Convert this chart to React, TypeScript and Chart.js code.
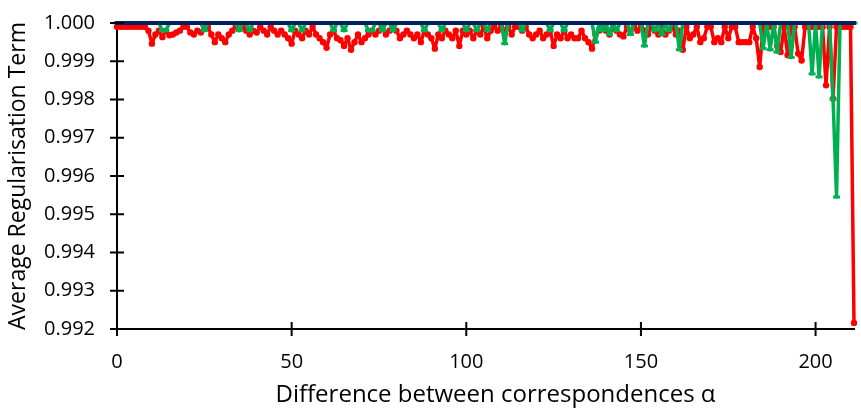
import React, { useEffect, useRef } from 'react';
import { Chart, registerables } from 'chart.js';

Chart.register(...registerables);

// Average regularisation term per difference between correspondences (alpha = 0..211)
const redValues = [
  0.9999, 0.9999, 0.9999, 0.9999, 0.9999, 0.9999, 0.9999, 0.9999, 0.9999, 0.9998,
  0.99946, 0.9997, 0.9998, 0.99963, 0.9998, 0.99968, 0.9997, 0.99975, 0.9998, 0.9999,
  0.9999, 0.99975, 0.9997, 0.9998, 0.99975, 0.9999, 0.9999, 0.9997, 0.9995, 0.9997,
  0.9996, 0.9995, 0.9997, 0.9998, 0.9999, 0.99985, 0.9999, 0.9998, 0.9997, 0.9998,
  0.99975, 0.9999, 0.9998, 0.9997, 0.9999, 0.9998, 0.9997, 0.9998, 0.9997, 0.9996,
  0.99946, 0.9998, 0.9997, 0.9996, 0.9998, 0.9997, 0.9999, 0.9997, 0.9996, 0.9995,
  0.99935, 0.9997, 0.9998, 0.9996, 0.99955, 0.9994, 0.9996, 0.9993, 0.9995, 0.9997,
  0.9995, 0.9996, 0.9997, 0.9998, 0.9997, 0.9998, 0.9999, 0.9997, 0.9998, 0.9999,
  0.9998, 0.9996, 0.9997, 0.9998, 0.9997, 0.9996, 0.9997, 0.9995, 0.9998, 0.9997,
  0.9996, 0.99933, 0.9997, 0.9996, 0.9998, 0.9997, 0.9996, 0.9998, 0.9994, 0.9998,
  0.9997, 0.9998, 0.9996, 0.9998, 0.9997, 0.9999, 0.9996, 0.9998, 0.9999, 0.9998,
  0.9999, 0.9998, 0.9999, 0.9997, 0.9999, 0.9999, 0.9998, 0.9999, 0.9997, 0.9996,
  0.9997, 0.9998, 0.9996, 0.9997, 0.9998, 0.9994, 0.9997, 0.9996, 0.9998, 0.9996,
  0.9997, 0.9996, 0.9996, 0.9998, 0.9996, 0.9995, 0.99933, 0.9997, 0.9998, 0.9999,
  0.9998, 0.9997, 0.9999, 0.9998, 0.9997, 0.99965, 0.9999, 0.9998, 0.9999, 0.9998,
  0.9999, 0.9998, 0.9997, 0.9999, 0.9998, 0.9997, 0.9999, 0.9997, 0.9998, 0.9999,
  0.9997, 0.9998, 0.9993, 0.9999, 0.9996, 0.9997, 0.9999, 0.9995, 0.9996, 0.9999,
  0.9999, 0.9995, 0.9996, 0.9995, 0.9999, 0.9996, 0.9999, 0.9999, 0.9995, 0.9995,
  0.9995, 0.9995, 0.9999, 0.9996, 0.99885, 0.9999, 0.9999, 0.9999, 0.9999, 0.9994,
  0.99924, 0.9999, 0.99916, 0.9999, 0.9999, 0.9992, 0.99902, 0.9999, 0.9999, 0.9999,
  0.9999, 0.9999, 0.9999, 0.99837, 0.9999, 0.99802, 0.9999, 0.9999, 0.9999, 0.9999,
  0.9999, 0.99216,
];

const greenValues = [
  1, 1, 1, 1, 1, 1, 1, 1, 1, 1,
  1, 1, 1, 0.9998, 0.9998, 1, 1, 1, 1, 1,
  1, 1, 1, 1, 1, 0.9998, 1, 1, 1, 1,
  1, 1, 1, 1, 1, 0.9998, 1, 1, 0.9998, 1,
  1, 1, 1, 1, 1, 1, 1, 1, 1, 1,
  0.9998, 1, 1, 0.9998, 1, 1, 1, 1, 1, 1,
  1, 1, 0.9998, 1, 1, 0.9998, 1, 1, 1, 1,
  1, 1, 0.9998, 0.9998, 1, 1, 0.9998, 1, 1, 0.9998,
  1, 1, 1, 1, 1, 1, 1, 1, 0.9998, 1,
  1, 1, 1, 0.9998, 1, 1, 1, 1, 1, 1,
  0.9998, 1, 1, 0.9998, 1, 1, 0.9998, 1, 1, 1,
  1, 0.99946, 1, 1, 1, 1, 0.9998, 1, 1, 1,
  1, 1, 1, 1, 0.9998, 1, 1, 1, 0.9998, 1,
  1, 1, 1, 1, 1, 1, 1, 0.9995, 1, 0.9998,
  1, 0.9997, 1, 0.9998, 1, 1, 1, 0.9997, 1, 1,
  1, 0.9994, 1, 1, 0.9998, 1, 0.9997, 1, 0.9998, 1,
  1, 0.9993, 1, 1, 1, 1, 1, 1, 1, 1,
  1, 1, 1, 1, 1, 1, 1, 1, 1, 1,
  1, 1, 1, 1, 1, 0.99933, 1, 0.9993, 1, 0.99924,
  1, 1, 1, 0.9991, 1, 1, 1, 1, 1, 0.99867,
  1, 0.99859, 1, 1, 1, 0.998, 0.99545, 1, 1, 1,
  1, 1,
];

const blueValues = [
  1, 1, 1, 1, 1, 1, 1, 1, 1, 1,
  1, 1, 1, 1, 1, 1, 1, 1, 1, 1,
  1, 1, 1, 1, 1, 1, 1, 1, 1, 1,
  1, 1, 1, 1, 1, 1, 1, 1, 1, 1,
  1, 1, 1, 1, 1, 1, 1, 1, 1, 1,
  1, 1, 1, 1, 1, 1, 1, 1, 1, 1,
  1, 1, 1, 1, 1, 1, 1, 1, 1, 1,
  1, 1, 1, 1, 1, 1, 1, 1, 1, 1,
  1, 1, 1, 1, 1, 1, 1, 1, 1, 1,
  1, 1, 1, 1, 1, 1, 1, 1, 1, 1,
  1, 1, 1, 1, 1, 1, 1, 1, 1, 1,
  1, 1, 1, 1, 1, 1, 1, 1, 1, 1,
  1, 1, 1, 1, 1, 1, 1, 1, 1, 1,
  1, 1, 1, 1, 1, 1, 1, 1, 1, 1,
  1, 1, 1, 1, 1, 1, 1, 1, 1, 1,
  1, 1, 1, 1, 1, 1, 1, 1, 1, 1,
  1, 1, 1, 1, 1, 1, 1, 1, 1, 1,
  1, 1, 1, 1, 1, 1, 1, 1, 1, 1,
  1, 1, 1, 1, 1, 1, 1, 1, 1, 1,
  1, 1, 1, 1, 1, 1, 1, 1, 1, 1,
  1, 1, 1, 1, 1, 1, 1, 1, 1, 1,
  1, 1,
];

const xTickValues = [0, 50, 100, 150, 200];
const yTickValues = [0.992, 0.993, 0.994, 0.995, 0.996, 0.997, 0.998, 0.999, 1.0];

const X_TITLE = 'Difference between correspondences α';
const Y_TITLE = 'Average Regularisation Term';

const FONT = "'Open Sans', sans-serif";

const toPoints = (arr: number[]) => arr.map((y, i) => ({ x: i, y }));

const axisDecor = {
  id: 'axisDecor',
  afterDraw(chart: any) {
    const { ctx, chartArea, scales } = chart;
    ctx.save();
    ctx.strokeStyle = '#000';
    ctx.lineWidth = 2;
    ctx.beginPath();
    for (const t of scales.x.ticks) {
      const px = scales.x.getPixelForValue(t.value);
      ctx.moveTo(px, chartArea.bottom - 7);
      ctx.lineTo(px, chartArea.bottom + 7);
    }
    for (const t of scales.y.ticks) {
      const py = scales.y.getPixelForValue(t.value);
      ctx.moveTo(chartArea.left - 7, py);
      ctx.lineTo(chartArea.left + 7, py);
    }
    ctx.stroke();
    // x axis title (centred a little right of the plot area, as in the reference)
    ctx.fillStyle = '#000';
    ctx.font = `24px ${FONT}`;
    ctx.textAlign = 'center';
    ctx.textBaseline = 'alphabetic';
    ctx.fillText(X_TITLE, chartArea.left + (chartArea.right - chartArea.left) * 0.5 + 10, 402);
    ctx.restore();
  },
};

export default function App() {
  const canvasRef = useRef<HTMLCanvasElement | null>(null);

  useEffect(() => {
    if (!canvasRef.current) return;
    Chart.defaults.font.family = FONT;
    Chart.defaults.color = '#000';
    const chart = new Chart(canvasRef.current, {
      type: 'line',
      data: {
        datasets: [
          {
            label: 'Blue',
            data: toPoints(blueValues),
            borderColor: '#002060',
            backgroundColor: '#002060',
            borderWidth: 4,
            pointStyle: 'rect',
            pointRadius: 2.8,
            pointBorderWidth: 0,
            pointBackgroundColor: '#002060',
            clip: false,
            order: 0,
          },
          {
            label: 'Green',
            data: toPoints(greenValues),
            borderColor: '#00B050',
            backgroundColor: '#00B050',
            borderWidth: 3.5,
            borderJoinStyle: 'round',
            pointStyle: 'line',
            pointRadius: 3.5,
            pointBorderWidth: 3,
            pointBorderColor: '#00B050',
            clip: false,
            order: 1,
          },
          {
            label: 'Red',
            data: toPoints(redValues),
            borderColor: '#FF0000',
            backgroundColor: '#FF0000',
            borderWidth: 3.5,
            borderJoinStyle: 'round',
            pointStyle: 'circle',
            pointRadius: 3.2,
            pointBorderWidth: 0,
            pointBackgroundColor: '#FF0000',
            clip: false,
            order: 2,
          },
        ],
      },
      options: {
        responsive: false,
        animation: false,
        devicePixelRatio: 1,
        layout: { padding: { top: 23, right: 1, bottom: 0, left: 0 } },
        plugins: {
          legend: { display: false },
          tooltip: { enabled: false },
        },
        elements: { line: { tension: 0 } },
        scales: {
          x: {
            type: 'linear',
            min: 0,
            max: 211,
            afterBuildTicks: (scale: any) => {
              scale.ticks = xTickValues.map((v) => ({ value: v }));
            },
            afterFit: (scale: any) => {
              scale.height = 79;
              scale.paddingLeft = 0;
              scale.paddingRight = 0;
            },
            grid: { display: false, drawTicks: false },
            border: { display: true, color: '#000', width: 2 },
            ticks: {
              padding: 21,
              font: { size: 20 },
              color: '#000',
              maxRotation: 0,
              callback: (v: any) => String(v),
            },
            title: { display: false, text: X_TITLE },
          },
          y: {
            type: 'linear',
            min: 0.992,
            max: 1.0,
            afterBuildTicks: (scale: any) => {
              scale.ticks = yTickValues.map((v) => ({ value: v }));
            },
            afterFit: (scale: any) => {
              scale.width = 117;
              scale.paddingTop = 0;
              scale.paddingBottom = 0;
            },
            grid: { display: false, drawTicks: false },
            border: { display: true, color: '#000', width: 2 },
            ticks: {
              padding: 22,
              font: { size: 20 },
              color: '#000',
              callback: (v: any) => Number(v).toFixed(3),
            },
            title: {
              display: true,
              text: Y_TITLE,
              font: { size: 23 },
              color: '#000',
              padding: { top: 5, bottom: 0 },
            },
          },
        },
      },
      plugins: [axisDecor],
    });
    return () => chart.destroy();
  }, []);

  return (
    <div style={{ position: 'fixed', left: 0, top: 0, width: 861, height: 408, background: '#fff' }}>
      <canvas ref={canvasRef} width={861} height={408} style={{ display: 'block', width: 861, height: 408 }} />
    </div>
  );
}
